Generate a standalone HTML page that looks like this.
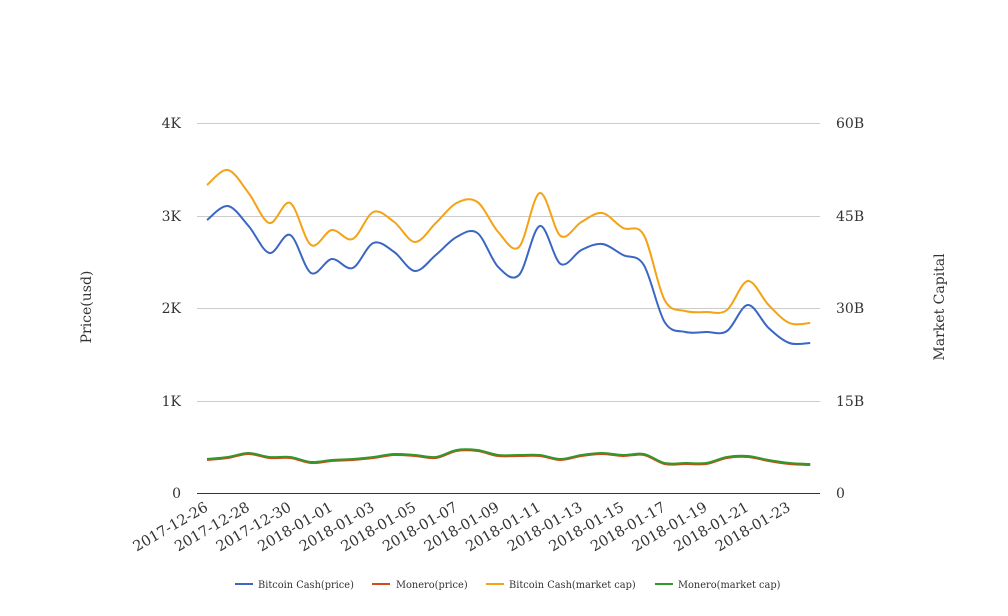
<!DOCTYPE html>
<html><head><meta charset="utf-8"><style>
body{margin:0;background:#fff}
svg{display:block;font-family:"DejaVu Serif","Liberation Serif",serif}
</style></head><body>
<svg id="s" width="1008" height="616" viewBox="0 0 1008 616">
<g stroke="#ccc" stroke-width="1">
<line x1="197" y1="123.5" x2="820" y2="123.5"/>
<line x1="197" y1="216.5" x2="820" y2="216.5"/>
<line x1="197" y1="308.5" x2="820" y2="308.5"/>
<line x1="197" y1="401.5" x2="820" y2="401.5"/>
</g>
<line x1="197" y1="493.5" x2="820" y2="493.5" stroke="#333" stroke-width="1"/>
<g font-size="14" fill="#333" text-anchor="end">
<text x="181" y="128">4K</text><text x="181" y="221">3K</text><text x="181" y="313">2K</text><text x="181" y="406">1K</text><text x="181" y="498">0</text>
</g>
<g font-size="14" fill="#333">
<text x="836" y="128">60B</text><text x="836" y="221">45B</text><text x="836" y="313">30B</text><text x="836" y="406">15B</text><text x="836" y="498">0</text>
</g>
<text transform="translate(91,307) rotate(-90)" font-size="14" fill="#333" text-anchor="middle">Price(usd)</text>
<text transform="translate(944,307) rotate(-90)" font-size="14" fill="#333" text-anchor="middle">Market Capital</text>
<g font-size="14.5" fill="#333" text-anchor="end">
<text transform="translate(209,510) rotate(-30)">2017-12-26</text>
<text transform="translate(250.6,510) rotate(-30)">2017-12-28</text>
<text transform="translate(292.2,510) rotate(-30)">2017-12-30</text>
<text transform="translate(333.8,510) rotate(-30)">2018-01-01</text>
<text transform="translate(375.4,510) rotate(-30)">2018-01-03</text>
<text transform="translate(417,510) rotate(-30)">2018-01-05</text>
<text transform="translate(458.6,510) rotate(-30)">2018-01-07</text>
<text transform="translate(500.2,510) rotate(-30)">2018-01-09</text>
<text transform="translate(541.8,510) rotate(-30)">2018-01-11</text>
<text transform="translate(583.4,510) rotate(-30)">2018-01-13</text>
<text transform="translate(625,510) rotate(-30)">2018-01-15</text>
<text transform="translate(666.6,510) rotate(-30)">2018-01-17</text>
<text transform="translate(708.2,510) rotate(-30)">2018-01-19</text>
<text transform="translate(749.8,510) rotate(-30)">2018-01-21</text>
<text transform="translate(791.4,510) rotate(-30)">2018-01-23</text>
</g>
<path id="po" fill="none" stroke="#f5a214" stroke-width="2"/>
<path id="pb" fill="none" stroke="#3a66c4" stroke-width="2"/>
<path id="pr" fill="none" stroke="#d2491c" stroke-width="2"/>
<path id="pg" fill="none" stroke="#2e9a2a" stroke-width="2"/>
<g font-size="9.8" fill="#333">
<line x1="235" y1="584" x2="253" y2="584" stroke="#3a66c4" stroke-width="2"/><text x="258" y="588">Bitcoin Cash(price)</text>
<line x1="372" y1="584" x2="390" y2="584" stroke="#d2491c" stroke-width="2"/><text x="396" y="588">Monero(price)</text>
<line x1="486" y1="584" x2="504" y2="584" stroke="#f5a214" stroke-width="2"/><text x="509" y="588">Bitcoin Cash(market cap)</text>
<line x1="655" y1="584" x2="673" y2="584" stroke="#2e9a2a" stroke-width="2"/><text x="678" y="588">Monero(market cap)</text>
</g>
</svg>
<script>
var B=[220,206,226,253,235,273,259,268,243,252,271,255,237,233,267,275,226,264,250,244,255,265,322,332,332,331,305,328,343,343];
var O=[185,170,193,223,203,245,230,239,212,222,242,223,203,202,232,247,193,236,222,213,228,235,300,311,312,310,281,305,323,323];
var G=[459,457,453,457,457,462,460,459,457,454,455,457,450,450,455,455,455,459,455,453,455,454,463,463,463,457,456,460,463,464];
function path(a,off){var p=a.map(function(y,i){return [207+20.8*i,y+off]});var d="M"+p[0][0]+","+p[0][1];
for(var i=0;i<p.length-1;i++){var p0=p[i-1]||p[i],p1=p[i],p2=p[i+1],p3=p[i+2]||p2;
var c1x=p1[0]+(p2[0]-p0[0])/6,c1y=p1[1]+(p2[1]-p0[1])/6,c2x=p2[0]-(p3[0]-p1[0])/6,c2y=p2[1]-(p3[1]-p1[1])/6;
d+=" C"+c1x.toFixed(1)+","+c1y.toFixed(1)+" "+c2x.toFixed(1)+","+c2y.toFixed(1)+" "+p2[0].toFixed(1)+","+p2[1];}return d;}
document.getElementById("pb").setAttribute("d",path(B,0));
document.getElementById("po").setAttribute("d",path(O,0));
document.getElementById("pr").setAttribute("d",path(G,1));
document.getElementById("pg").setAttribute("d",path(G,0));
</script>
</body></html>
